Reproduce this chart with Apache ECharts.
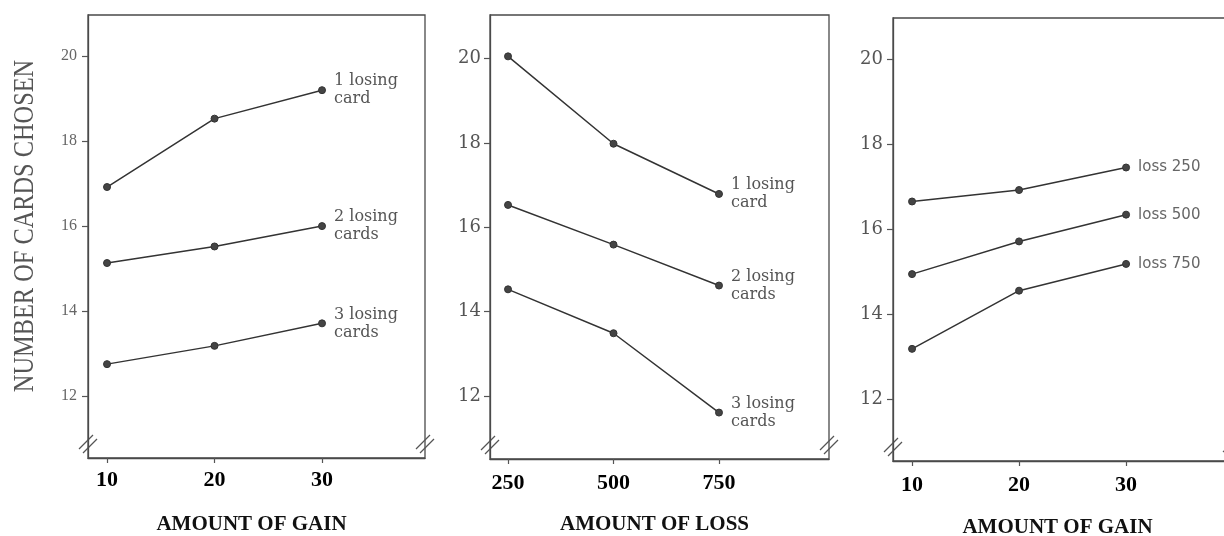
<!DOCTYPE html>
<html>
<head>
<meta charset="utf-8">
<script src="https://cdn.jsdelivr.net/npm/echarts@6/dist/echarts.min.js"></script>
<style>html,body{margin:0;padding:0;background:#fff;}#c{width:1224px;height:536px;}</style>
</head>
<body>
<div id="c"></div>
<script>
// ---- data ----
const gainLevels = [10, 20, 30];
const lossLevels = [250, 500, 750];
const yTicks = [12, 14, 16, 18, 20];

// panel 1: by amount of gain, lines = number of losing cards
const gain1Card = [16.92, 18.53, 19.20];
const gain2Cards = [15.13, 15.52, 16.00];
const gain3Cards = [12.75, 13.18, 13.71];
// panel 2: by amount of loss, lines = number of losing cards
const loss1Card = [20.05, 17.98, 16.79];
const loss2Cards = [16.53, 15.59, 14.62];
const loss3Cards = [14.53, 13.49, 11.61];
// panel 3: by amount of gain, lines = amount of loss
const gainLoss250 = [16.65, 16.92, 17.45];
const gainLoss500 = [14.94, 15.71, 16.34];
const gainLoss750 = [13.18, 14.55, 15.18];

const cardNames = ['1 losing\ncard', '2 losing\ncards', '3 losing\ncards'];
const lossNames = ['loss 250', 'loss 500', 'loss 750'];
const yName = 'NUMBER OF CARDS CHOSEN';
const xNames = ['AMOUNT OF GAIN', 'AMOUNT OF LOSS', 'AMOUNT OF GAIN'];

// ---- layout ----
const grids = [
  {left: 88, top: 15, width: 337, height: 443},
  {left: 490, top: 15, width: 339, height: 444},
  {left: 893, top: 18, width: 339, height: 443}
];
const xRanges = [[8.23, 39.58], [207.3, 1010.7], [8.22, 39.9]];
const yRanges = [[10.54, 20.97], [10.51, 21.03], [10.54, 20.97]];
const yLabelMargins = [11, 9, 10];
const xLabelMargins = [11, 13, 13];
const xNameGaps = [56, 55, 56];

const chart = echarts.init(document.getElementById('c'), null, {renderer: 'canvas'});

const xCats = [gainLevels, lossLevels, gainLevels];

const xAxis = grids.map((g, i) => ({
  gridIndex: i, type: 'value', min: xRanges[i][0], max: xRanges[i][1],
  axisLine: {show: true, onZero: false, lineStyle: {color: '#4a4a4a', width: 1.3}},
  axisTick: {show: true, length: 5, customValues: xCats[i], lineStyle: {color: '#555', width: 1.2}},
  axisLabel: {customValues: xCats[i], margin: xLabelMargins[i], fontFamily: 'Liberation Serif',
    fontWeight: 'bold', fontSize: 22, color: '#000'},
  splitLine: {show: false},
  name: xNames[i], nameLocation: 'middle', nameGap: xNameGaps[i],
  nameTextStyle: {fontFamily: 'Liberation Serif', fontWeight: 'bold', fontSize: 21, color: '#111',
    padding: [0, 10, 0, 0]}
}));

const yAxis = grids.map((g, i) => ({
  gridIndex: i, type: 'value', min: yRanges[i][0], max: yRanges[i][1],
  axisLine: {show: true, onZero: false, lineStyle: {color: '#4a4a4a', width: 1.3}},
  axisTick: {show: true, length: 6, customValues: yTicks, lineStyle: {color: '#555', width: 1.2}},
  axisLabel: i === 0
    ? {customValues: yTicks, margin: yLabelMargins[i], fontFamily: 'Liberation Serif', fontSize: 16, color: '#666'}
    : {customValues: yTicks, margin: yLabelMargins[i], fontFamily: 'DejaVu Serif', fontSize: 18, color: '#555'},
  splitLine: {show: false}
}));

function mkSeries(name, xs, ys, gi, labelFont) {
  return {
    type: 'line', name: name, xAxisIndex: gi, yAxisIndex: gi,
    data: xs.map((x, k) => [x, ys[k]]),
    symbol: 'circle', symbolSize: 7, silent: true, animation: false,
    lineStyle: {color: '#333', width: 1.5},
    itemStyle: {color: '#444', borderColor: '#333', borderWidth: 1},
    endLabel: Object.assign({show: true, formatter: p => p.seriesName, distance: 12,
      color: '#555', align: 'left', verticalAlign: 'middle'}, labelFont)
  };
}
const serifLabel = {fontFamily: 'DejaVu Serif', fontSize: 16, lineHeight: 18};
const sansLabel = {fontFamily: 'DejaVu Sans', fontSize: 15, lineHeight: 18, color: '#666'};

const series = [
  mkSeries(cardNames[0], gainLevels, gain1Card, 0, serifLabel),
  mkSeries(cardNames[1], gainLevels, gain2Cards, 0, serifLabel),
  mkSeries(cardNames[2], gainLevels, gain3Cards, 0, serifLabel),
  mkSeries(cardNames[0], lossLevels, loss1Card, 1, serifLabel),
  mkSeries(cardNames[1], lossLevels, loss2Cards, 1, serifLabel),
  mkSeries(cardNames[2], lossLevels, loss3Cards, 1, serifLabel),
  mkSeries(lossNames[0], gainLevels, gainLoss250, 2, sansLabel),
  mkSeries(lossNames[1], gainLevels, gainLoss500, 2, sansLabel),
  mkSeries(lossNames[2], gainLevels, gainLoss750, 2, sansLabel)
];

chart.setOption({
  animation: false,
  backgroundColor: '#fff',
  grid: grids.map(g => Object.assign({show: true, borderColor: '#4a4a4a', borderWidth: 1.3,
    backgroundColor: 'transparent', containLabel: false, outerBoundsMode: 'none'}, g)),
  xAxis: xAxis,
  yAxis: yAxis,
  series: series
});

// axis break marks and rotated y-axis title
const graphics = [];
grids.forEach((g, i) => {
  [xRanges[i][0], xRanges[i][1]].forEach(xv => {
    const p = chart.convertToPixel({gridIndex: i}, [xv, yRanges[i][0]]);
    const cx = p[0], cy = p[1] - 14;
    [-2, 2].forEach(o => {
      graphics.push({type: 'line', silent: true,
        shape: {x1: cx - 7 + o, y1: cy + 7 + o, x2: cx + 7 + o, y2: cy - 7 + o},
        style: {stroke: '#555', lineWidth: 1.2}});
    });
  });
});
graphics.push({
  type: 'text', silent: true, x: 25, y: 226, rotation: Math.PI / 2, scaleX: 0.84,
  style: {text: yName, font: '29px "Liberation Serif"', fill: '#555', align: 'center', verticalAlign: 'middle'}
});
chart.setOption({graphic: graphics});
</script>
</body>
</html>
